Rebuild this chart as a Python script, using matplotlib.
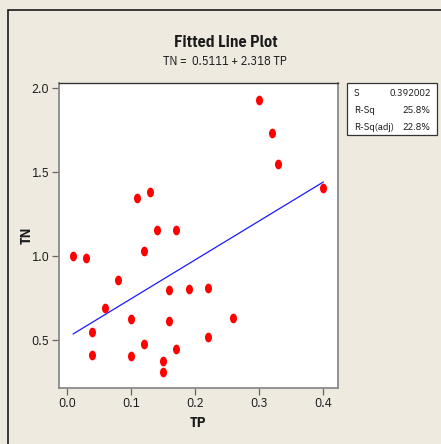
import matplotlib
matplotlib.use("Agg")
import matplotlib.pyplot as plt
from matplotlib.patches import Rectangle
from matplotlib.path import Path
from matplotlib.transforms import Affine2D
from matplotlib import font_manager
import numpy as np

# Observations
tp = [0.01, 0.03, 0.04, 0.04, 0.06, 0.08, 0.10, 0.10, 0.11, 0.12, 0.12, 0.13, 0.14,
      0.15, 0.15, 0.16, 0.16, 0.17, 0.17, 0.19, 0.22, 0.22, 0.26, 0.30, 0.32, 0.33, 0.40]
tn = [1.00, 0.985, 0.548, 0.411, 0.690, 0.855, 0.623, 0.403, 1.345, 1.028, 0.473, 1.379, 1.155,
      0.372, 0.310, 0.794, 0.611, 1.155, 0.446, 0.802, 0.806, 0.514, 0.629, 1.927, 1.730, 1.544, 1.401]

# Regression summary
intercept = 0.5111
slope = 2.318
stat_names = ["S", "R-Sq", "R-Sq(adj)"]
stat_values = ["0.392002", "25.8%", "22.8%"]

x_ticks = [0.0, 0.1, 0.2, 0.3, 0.4]
y_ticks = [0.5, 1.0, 1.5, 2.0]

# narrow sans face with regular and bold weights
installed = {f.name for f in font_manager.fontManager.ttflist}
face = "IBM Plex Sans Condensed" if "IBM Plex Sans Condensed" in installed else "Liberation Sans"
plt.rcParams["font.family"] = [face, "DejaVu Sans"]

W, H = 441, 444
bg = "#eeeae0"
ink = "#1a1a1a"
fig = plt.figure(figsize=(W / 100, H / 100), dpi=100, facecolor=bg)

# outer graph frame
fig.patches.append(Rectangle((8 / W, -0.05), 1.2, 1 - 10 / H + 0.05, transform=fig.transFigure,
                             fill=False, edgecolor="#1a1a1a", linewidth=1.2))

ax = fig.add_axes([59 / W, 1 - 387.7 / H, (337.7 - 59) / W, (387.7 - 83) / H])
ax.set_facecolor("white")
ax.set_xlim(-0.0122, 0.4226)
ax.set_ylim(0.214, 2.028)

# elliptical marker
ell = Path.unit_circle().transformed(Affine2D().scale(0.72, 1.0))
ax.plot(tp, tn, linestyle="none", marker=ell, markersize=7.0, color="#ff0000",
        markeredgewidth=0, zorder=3)

xs = np.array([min(tp), max(tp)])
ax.plot(xs, intercept + slope * xs, color="#1a1aff", linewidth=0.9, zorder=2)

ax.set_xticks(x_ticks)
ax.set_xticklabels([f"{v:.1f}" for v in x_ticks])
ax.set_yticks(y_ticks)
ax.set_yticklabels([f"{v:.1f}" for v in y_ticks])
ax.tick_params(direction="out", length=5, width=0.9, color="#666666", labelsize=9.5,
               labelcolor=ink, pad=2)
for side in ["left", "bottom", "right", "top"]:
    ax.spines[side].set_color("#8a8a8a")
    ax.spines[side].set_linewidth(1.3)
ax.spines["top"].set_color("#333333")
ax.spines["top"].set_linewidth(1.0)

fig.text(198 / W, 1 - 423 / H, "TP", ha="center", va="center", fontsize=10.5, fontweight="bold",
         color=ink)
fig.text(27 / W, 1 - 235 / H, "TN", ha="center", va="center", rotation=90, fontsize=10.5,
         fontweight="bold", color=ink)

fig.text(226.3 / W, 1 - 42.5 / H, "Fitted Line Plot", ha="center", va="center", fontsize=11.5,
         fontweight="bold", color=ink)
fig.text(224.5 / W, 1 - 61.3 / H, f"TN =  {intercept:.4f} + {slope:.3f} TP", ha="center",
         va="center", fontsize=9, color=ink)

# statistics box
fig.patches.append(Rectangle((347 / W, 1 - 135.3 / H), (437 - 347) / W, (135.3 - 82.7) / H,
                             transform=fig.transFigure, facecolor="white", edgecolor="#333333",
                             linewidth=0.9))
for i, (name, val) in enumerate(zip(stat_names, stat_values)):
    y = 1 - (93 + 17.2 * i) / H
    fig.text(354 / W, y, name, ha="left", va="center", fontsize=7.5, color=ink)
    fig.text(430.5 / W, y, val, ha="right", va="center", fontsize=7.5, color=ink)

fig.savefig("out.png", dpi=100, facecolor=bg)
